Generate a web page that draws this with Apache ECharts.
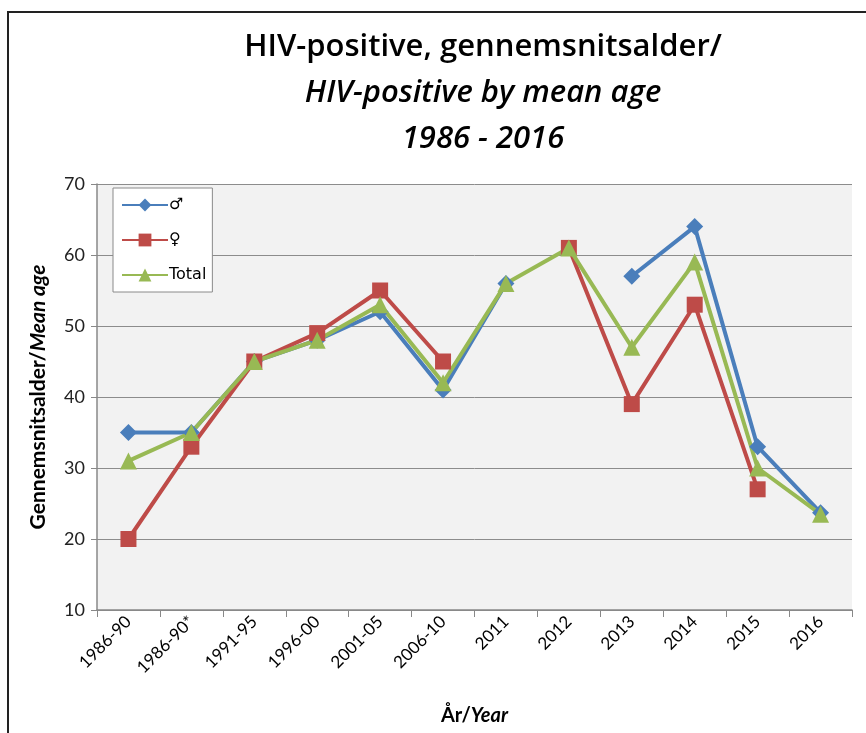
<!DOCTYPE html>
<html>
<head>
<meta charset="utf-8">
<script src="https://cdn.jsdelivr.net/npm/echarts@6/dist/echarts.min.js"></script>
<style>
  html, body { margin: 0; padding: 0; background: #fff; }
  #frame { position: absolute; left: 7px; top: 11px; width: 880px; height: 760px; border: 2px solid #222; box-sizing: border-box; }
  #chart { position: absolute; left: 0; top: 0; width: 866px; height: 733px; }
</style>
</head>
<body>
<div id="frame"></div>
<div id="chart"></div>
<script>
  // kategorier og værdier
  let years = ['1986-90', '1986-90*', '1991-95', '1996-00', '2001-05', '2006-10', '2011', '2012', '2013', '2014', '2015', '2016']
  let male = [35, 35, 45, 48, 52, 41, 56, null, 57, 64, 33, 23.7]
  let female = [20, 33, 45, 49, 55, 45, null, 61, 39, 53, 27, null]
  let total = [31, 35, 45, 48, 53, 42, 56, 61, 47, 59, 30, 23.5]
  let yTicks = [10, 70, 10] // min, max, interval

  let font = 'Lato, "Open Sans", sans-serif'
  let titleFont = '"Open Sans", sans-serif'
  let myChart = echarts.init(document.getElementById('chart'))

  let options = {
    animation: false,
    title: {
      text: '{a|HIV-positive, gennemsnitsalder/}\n{b|HIV-positive by mean age}\n{b|1986 - 2016}',
      left: 478,
      textAlign: 'center',
      top: 19,
      textStyle: {
        fontWeight: 'normal',
        rich: {
          a: { fontFamily: titleFont, fontSize: 31, fontWeight: 600, color: '#000', lineHeight: 46 },
          b: { fontFamily: titleFont, fontSize: 31, fontWeight: 600, fontStyle: 'italic', color: '#000', lineHeight: 46 }
        }
      }
    },
    legend: {
      orient: 'vertical',
      left: 113,
      top: 188,
      padding: [9, 6, 9, 8],
      itemGap: 19,
      itemWidth: 46,
      itemHeight: 16,
      backgroundColor: '#fff',
      borderColor: '#8a8a8a',
      borderWidth: 1,
      textStyle: { fontFamily: 'DejaVu Sans, sans-serif', fontSize: 16, color: '#000', padding: [0, 0, 0, -4] },
      data: ['♂', '♀', 'Total']
    },
    grid: {
      left: 97,
      right: 14,
      top: 184,
      bottom: 123,
      show: true,
      backgroundColor: '#f2f2f2',
      borderWidth: 0
    },
    xAxis: {
      type: 'category',
      data: years,
      boundaryGap: true,
      name: '{a|År/}{b|Year}',
      nameLocation: 'middle',
      nameGap: 96,
      nameTextStyle: {
        rich: {
          a: { fontFamily: font, fontSize: 20, fontWeight: 'bold', color: '#000' },
          b: { fontFamily: font, fontSize: 20, fontWeight: 'bold', fontStyle: 'italic', color: '#000' }
        }
      },
      axisLine: { lineStyle: { color: '#888', width: 1.5 } },
      axisTick: { show: true, length: 7, lineStyle: { color: '#888' } },
      axisLabel: { rotate: 45, fontFamily: font, fontSize: 17, color: '#000', margin: 9, interval: 0 }
    },
    yAxis: {
      type: 'value',
      min: yTicks[0],
      max: yTicks[1],
      interval: yTicks[2],
      name: '{a|Gennemsnitsalder/}{b|Mean age}',
      nameLocation: 'middle',
      nameGap: 48,
      nameTextStyle: {
        rich: {
          a: { fontFamily: font, fontSize: 21, fontWeight: 'bold', color: '#000' },
          b: { fontFamily: font, fontSize: 21, fontWeight: 'bold', fontStyle: 'italic', color: '#000' }
        }
      },
      axisLine: { show: true, lineStyle: { color: '#888', width: 1.5 } },
      axisTick: { show: true, length: 6, lineStyle: { color: '#888' } },
      axisLabel: { fontFamily: font, fontSize: 18, color: '#222', margin: 12 },
      splitLine: { lineStyle: { color: '#8c8c8c', width: 1 } }
    },
    series: [
      {
        name: '♂',
        type: 'line',
        data: male,
        connectNulls: false,
        symbol: 'diamond',
        symbolSize: 17,
        lineStyle: { width: 4, color: '#4a7ebb' },
        itemStyle: { color: '#4a7ebb' }
      },
      {
        name: '♀',
        type: 'line',
        data: female,
        connectNulls: false,
        symbol: 'rect',
        symbolSize: 16,
        lineStyle: { width: 4, color: '#be4b48' },
        itemStyle: { color: '#be4b48' }
      },
      {
        name: 'Total',
        type: 'line',
        data: total,
        symbol: 'triangle',
        symbolSize: 17,
        lineStyle: { width: 4, color: '#98b954' },
        itemStyle: { color: '#98b954' }
      }
    ]
  }
  myChart.setOption(options)
</script>
</body>
</html>
